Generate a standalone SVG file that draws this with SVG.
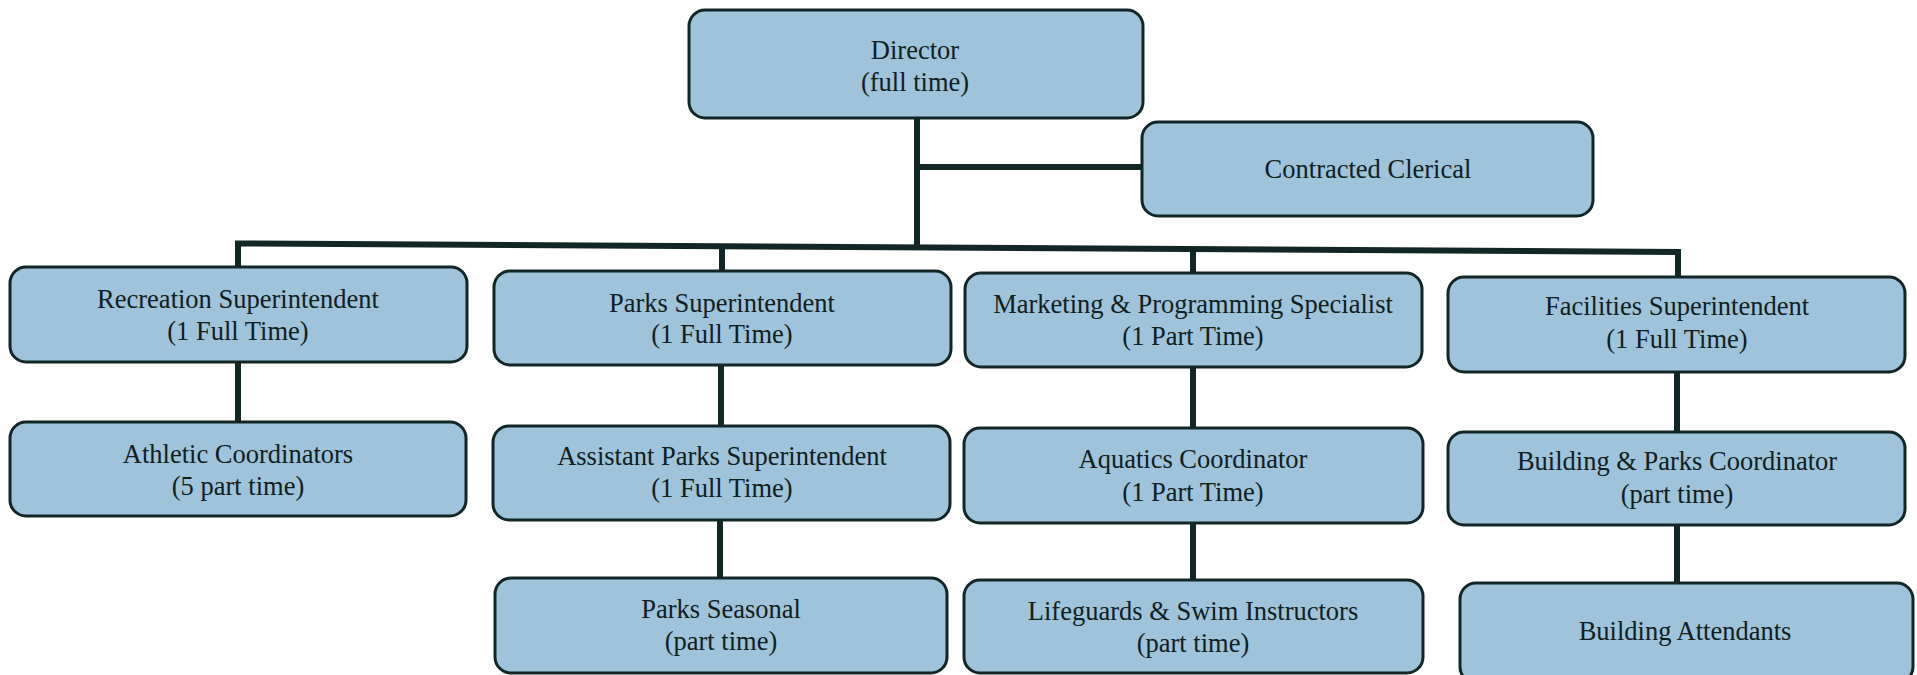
<svg xmlns="http://www.w3.org/2000/svg" width="1917" height="675" viewBox="0 0 1917 675">
  <style>
    .box { fill: #9fc3da; stroke: #132626; stroke-width: 3; }
    .lbl { font-family: "Liberation Serif", "Times New Roman", serif; font-size: 26.5px; fill: #102020; text-anchor: middle; }
    .wire { fill: none; stroke: #132626; stroke-width: 6; stroke-linecap: butt; stroke-linejoin: miter; }
  </style>
  <rect width="1917" height="675" fill="#ffffff"/>

  <!-- reporting lines -->
  <g id="connectors">
    <path class="wire" d="M917 118 V248"/>
    <path class="wire" d="M917 167 H1142"/>
    <path class="wire" d="M238 267 V243.5 L1678 252 V277"/>
    <path class="wire" d="M722 245 V271"/>
    <path class="wire" d="M1193 248 V273"/>
    <path class="wire" d="M238 362 V422"/>
    <path class="wire" d="M721 365 V426"/>
    <path class="wire" d="M720 520 V578"/>
    <path class="wire" d="M1193 367 V428"/>
    <path class="wire" d="M1193 523 V580"/>
    <path class="wire" d="M1677 372 V432"/>
    <path class="wire" d="M1677 525 V583"/>
  </g>

  <g id="director">
    <rect class="box" x="689" y="10" width="454" height="108" rx="16"/>
    <text class="lbl" x="915" y="59">Director</text>
    <text class="lbl" x="915" y="91">(full time)</text>
  </g>

  <g id="clerical">
    <rect class="box" x="1142" y="122" width="451" height="94" rx="16"/>
    <text class="lbl" x="1368" y="178">Contracted Clerical</text>
  </g>

  <g id="recreation-superintendent">
    <rect class="box" x="10" y="267" width="457" height="95" rx="16"/>
    <text class="lbl" x="238" y="308">Recreation Superintendent</text>
    <text class="lbl" x="238" y="340">(1 Full Time)</text>
  </g>

  <g id="athletic-coordinators">
    <rect class="box" x="10" y="422" width="456" height="94" rx="16"/>
    <text class="lbl" x="238" y="463">Athletic Coordinators</text>
    <text class="lbl" x="238" y="495">(5 part time)</text>
  </g>

  <g id="parks-superintendent">
    <rect class="box" x="494" y="271" width="457" height="94" rx="16"/>
    <text class="lbl" x="722" y="312">Parks Superintendent</text>
    <text class="lbl" x="722" y="343">(1 Full Time)</text>
  </g>

  <g id="assistant-parks-superintendent">
    <rect class="box" x="493" y="426" width="457" height="94" rx="16"/>
    <text class="lbl" x="722" y="465">Assistant Parks Superintendent</text>
    <text class="lbl" x="722" y="497">(1 Full Time)</text>
  </g>

  <g id="parks-seasonal">
    <rect class="box" x="495" y="578" width="452" height="95" rx="16"/>
    <text class="lbl" x="721" y="618">Parks Seasonal</text>
    <text class="lbl" x="721" y="650">(part time)</text>
  </g>

  <g id="marketing-specialist">
    <rect class="box" x="965" y="273" width="457" height="94" rx="16"/>
    <text class="lbl" x="1193" y="313">Marketing &amp; Programming Specialist</text>
    <text class="lbl" x="1193" y="345">(1 Part Time)</text>
  </g>

  <g id="aquatics-coordinator">
    <rect class="box" x="964" y="428" width="459" height="95" rx="16"/>
    <text class="lbl" x="1193" y="468">Aquatics Coordinator</text>
    <text class="lbl" x="1193" y="501">(1 Part Time)</text>
  </g>

  <g id="lifeguards">
    <rect class="box" x="964" y="580" width="459" height="93" rx="16"/>
    <text class="lbl" x="1193" y="620">Lifeguards &amp; Swim Instructors</text>
    <text class="lbl" x="1193" y="652">(part time)</text>
  </g>

  <g id="facilities-superintendent">
    <rect class="box" x="1448" y="277" width="457" height="95" rx="16"/>
    <text class="lbl" x="1677" y="315">Facilities Superintendent</text>
    <text class="lbl" x="1677" y="348">(1 Full Time)</text>
  </g>

  <g id="building-parks-coordinator">
    <rect class="box" x="1448" y="432" width="457" height="93" rx="16"/>
    <text class="lbl" x="1677" y="470">Building &amp; Parks Coordinator</text>
    <text class="lbl" x="1677" y="503">(part time)</text>
  </g>

  <g id="building-attendants">
    <rect class="box" x="1460" y="583" width="453" height="100" rx="16"/>
    <text class="lbl" x="1685" y="640">Building Attendants</text>
  </g>
</svg>
